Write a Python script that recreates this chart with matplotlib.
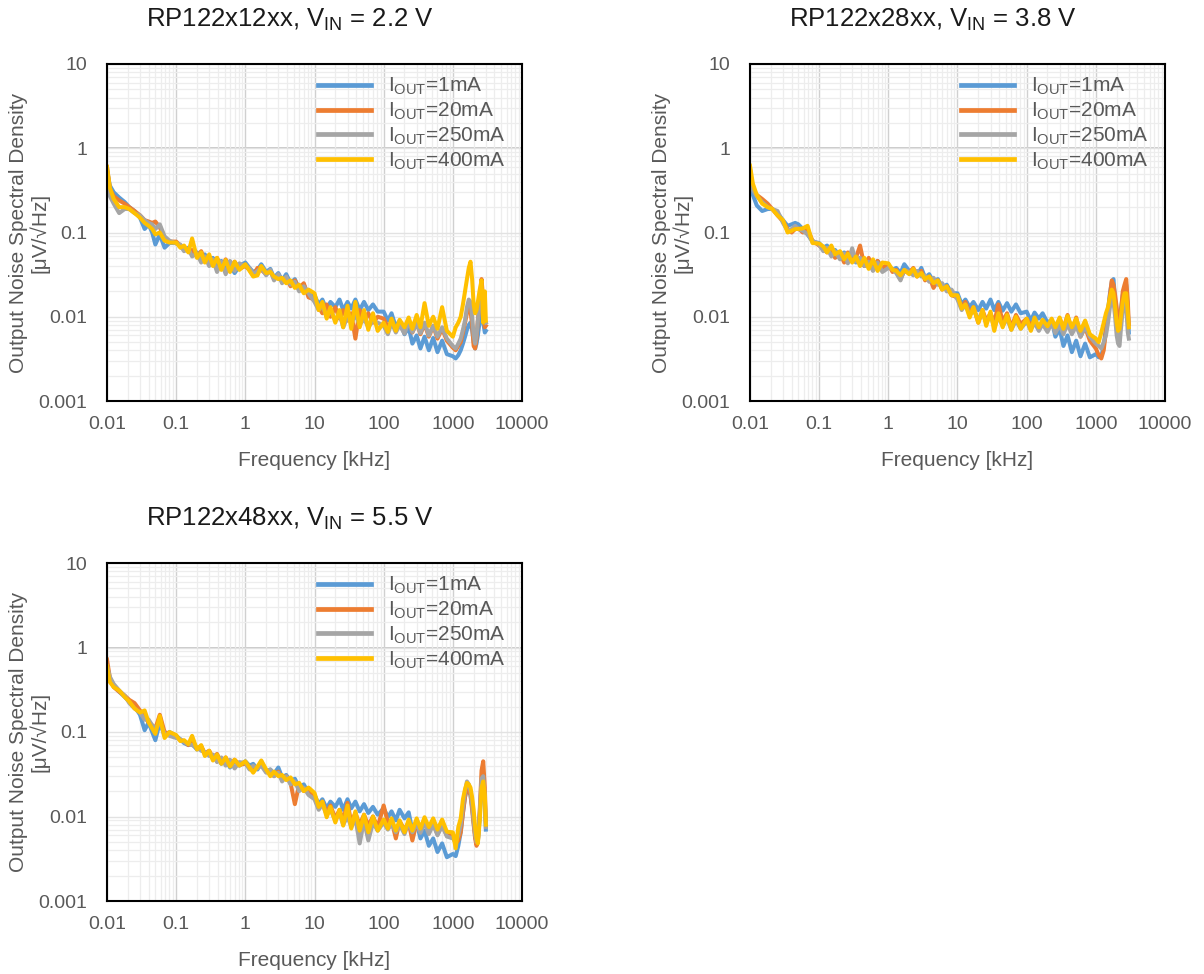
import matplotlib.pyplot as plt
from matplotlib.ticker import LogLocator, NullFormatter

plt.rcParams['font.family'] = ['Liberation Sans', 'DejaVu Sans']
plt.rcParams['mathtext.fontset'] = 'custom'
plt.rcParams['mathtext.rm'] = 'Liberation Sans'
plt.rcParams['mathtext.it'] = 'Liberation Sans:italic'

# frequency points [kHz], shared by every trace
freq_khz = [
    0.01, 0.011, 0.0125, 0.015, 0.018, 0.021, 0.025, 0.03, 0.035, 0.04, 0.045, 0.05, 0.058, 0.068, 0.08,
    0.1, 0.115, 0.13, 0.15, 0.17, 0.2, 0.23, 0.26, 0.3, 0.34, 0.39, 0.45, 0.52, 0.6, 0.7, 0.82,
    1, 1.15, 1.3, 1.5, 1.7, 2, 2.3, 2.6, 3, 3.4, 3.9, 4.5, 5.2, 6, 7, 8.2,
    10, 11.5, 13, 15, 17, 20, 23, 26, 30, 34, 39, 45, 52, 60, 70, 82,
    100, 115, 130, 150, 170, 200, 230, 260, 300, 340, 390, 450, 520, 600, 700, 820,
    1000, 1100, 1200, 1300, 1400, 1500, 1600, 1700, 1800, 1900, 2000, 2100, 2200, 2300, 2450, 2600, 2750, 2900, 3000,
]

# RP122x12xx, VIN = 2.2 V  [uV/sqrt(Hz)]
rp12_1ma = [
    0.55, 0.36, 0.30, 0.26, 0.23, 0.20, 0.18, 0.15, 0.11, 0.125, 0.10, 0.072, 0.095, 0.066, 0.075,
    0.075, 0.068, 0.062, 0.066, 0.055, 0.058, 0.048, 0.055, 0.044, 0.05, 0.040, 0.046, 0.036, 0.042, 0.033, 0.040,
    0.044, 0.038, 0.034, 0.036, 0.042, 0.034, 0.037, 0.029, 0.033, 0.027, 0.032, 0.025, 0.028, 0.021, 0.024, 0.018,
    0.018, 0.014, 0.016, 0.012, 0.015, 0.013, 0.016, 0.012, 0.015, 0.0125, 0.016, 0.012, 0.015, 0.012, 0.014, 0.0115,
    0.0115, 0.009, 0.011, 0.0075, 0.009, 0.0062, 0.0075, 0.0048, 0.006, 0.0042, 0.0058, 0.0040, 0.0056, 0.0038, 0.0052, 0.0036,
    0.0034, 0.0032, 0.0035, 0.004, 0.0048, 0.0058, 0.007, 0.008, 0.0085, 0.007, 0.005, 0.0042, 0.0048, 0.006, 0.009, 0.012, 0.0085, 0.0065, 0.0068,
]
rp12_20ma = [
    0.60, 0.33, 0.27, 0.24, 0.22, 0.20, 0.18, 0.16, 0.14, 0.135, 0.13, 0.135, 0.115, 0.085, 0.078,
    0.078, 0.07, 0.066, 0.06, 0.062, 0.052, 0.06, 0.046, 0.052, 0.042, 0.05, 0.038, 0.048, 0.036, 0.045, 0.037,
    0.040, 0.036, 0.031, 0.038, 0.036, 0.032, 0.035, 0.028, 0.031, 0.026, 0.029, 0.023, 0.027, 0.022, 0.025, 0.017,
    0.016, 0.013, 0.011, 0.014, 0.010, 0.013, 0.0095, 0.012, 0.009, 0.011, 0.0055, 0.012, 0.009, 0.011, 0.0085, 0.010,
    0.0095, 0.0075, 0.0088, 0.007, 0.0085, 0.0068, 0.0092, 0.0065, 0.0085, 0.0062, 0.0082, 0.0058, 0.0078, 0.0055, 0.0072, 0.0052,
    0.0043, 0.004, 0.0045, 0.005, 0.0065, 0.0085, 0.011, 0.013, 0.012, 0.008, 0.0045, 0.0042, 0.0055, 0.009, 0.016, 0.028, 0.016, 0.0075, 0.0078,
]
rp12_250ma = [
    0.50, 0.27, 0.22, 0.17, 0.19, 0.19, 0.17, 0.16, 0.14, 0.13, 0.125, 0.11, 0.125, 0.09, 0.08,
    0.074, 0.072, 0.06, 0.064, 0.052, 0.056, 0.044, 0.052, 0.040, 0.048, 0.034, 0.045, 0.032, 0.046, 0.035, 0.043,
    0.040, 0.038, 0.032, 0.035, 0.038, 0.031, 0.036, 0.027, 0.032, 0.025, 0.030, 0.024, 0.026, 0.020, 0.023, 0.019,
    0.015, 0.012, 0.0135, 0.010, 0.012, 0.009, 0.011, 0.0075, 0.010, 0.0085, 0.0105, 0.008, 0.0095, 0.0075, 0.009, 0.0085,
    0.0078, 0.0062, 0.0085, 0.0065, 0.008, 0.0063, 0.0088, 0.0066, 0.0082, 0.0064, 0.0085, 0.006, 0.0078, 0.0058, 0.0075, 0.0055,
    0.0045, 0.0042, 0.0048, 0.0055, 0.007, 0.009, 0.013, 0.016, 0.015, 0.01, 0.006, 0.0048, 0.006, 0.009, 0.015, 0.02, 0.012, 0.009, 0.0085,
]
rp12_400ma = [
    0.60, 0.34, 0.25, 0.20, 0.20, 0.19, 0.17, 0.15, 0.13, 0.12, 0.11, 0.095, 0.10, 0.08, 0.076,
    0.076, 0.066, 0.07, 0.058, 0.085, 0.05, 0.058, 0.044, 0.055, 0.04, 0.05, 0.036, 0.047, 0.034, 0.045, 0.036,
    0.042, 0.035, 0.030, 0.031, 0.040, 0.033, 0.034, 0.030, 0.028, 0.029, 0.025, 0.027, 0.022, 0.024, 0.019, 0.021,
    0.019, 0.012, 0.015, 0.0095, 0.013, 0.0085, 0.012, 0.0075, 0.0135, 0.0072, 0.015, 0.0075, 0.012, 0.007, 0.011, 0.0068,
    0.0085, 0.0066, 0.0095, 0.0068, 0.0092, 0.0075, 0.0098, 0.0072, 0.0105, 0.0075, 0.0145, 0.0078, 0.010, 0.0072, 0.013, 0.0068,
    0.0058, 0.0075, 0.0085, 0.010, 0.014, 0.02, 0.028, 0.038, 0.045, 0.028, 0.014, 0.011, 0.012, 0.015, 0.021, 0.027, 0.0085, 0.02, 0.009,
]

# RP122x28xx, VIN = 3.8 V
rp28_1ma = [
    0.58, 0.28, 0.21, 0.18, 0.19, 0.19, 0.17, 0.14, 0.12, 0.125, 0.13, 0.125, 0.11, 0.095, 0.078,
    0.075, 0.066, 0.07, 0.058, 0.062, 0.052, 0.058, 0.046, 0.055, 0.044, 0.05, 0.04, 0.048, 0.037, 0.046, 0.036,
    0.040, 0.036, 0.038, 0.033, 0.042, 0.035, 0.036, 0.031, 0.038, 0.029, 0.032, 0.026, 0.028, 0.022, 0.024, 0.019,
    0.019, 0.014, 0.016, 0.013, 0.015, 0.012, 0.015, 0.0125, 0.016, 0.012, 0.015, 0.0118, 0.0145, 0.0115, 0.014, 0.011,
    0.0115, 0.009, 0.0112, 0.0095, 0.011, 0.0085, 0.0092, 0.0058, 0.0072, 0.0045, 0.006, 0.0038, 0.0052, 0.0034, 0.0048, 0.0033,
    0.0036, 0.0033, 0.0034, 0.0045, 0.0075, 0.012, 0.019, 0.026, 0.028, 0.016, 0.0105, 0.0092, 0.0085, 0.012, 0.018, 0.022, 0.024, 0.012, 0.0065,
]
rp28_20ma = [
    0.55, 0.33, 0.28, 0.25, 0.22, 0.19, 0.16, 0.135, 0.11, 0.10, 0.11, 0.112, 0.10, 0.11, 0.08,
    0.07, 0.064, 0.058, 0.066, 0.05, 0.056, 0.044, 0.058, 0.046, 0.05, 0.07, 0.04, 0.05, 0.036, 0.046, 0.038,
    0.042, 0.034, 0.036, 0.028, 0.035, 0.033, 0.038, 0.03, 0.035, 0.027, 0.03, 0.022, 0.027, 0.021, 0.023, 0.018,
    0.017, 0.013, 0.015, 0.011, 0.013, 0.0085, 0.012, 0.009, 0.011, 0.0085, 0.014, 0.0088, 0.011, 0.0075, 0.0105, 0.0082,
    0.0095, 0.0078, 0.009, 0.0072, 0.0088, 0.007, 0.0085, 0.0068, 0.0095, 0.0072, 0.0105, 0.0065, 0.0098, 0.0058, 0.0075, 0.0052,
    0.0042, 0.0035, 0.0032, 0.004, 0.0068, 0.011, 0.018, 0.027, 0.024, 0.018, 0.013, 0.009, 0.008, 0.011, 0.02, 0.024, 0.028, 0.015, 0.0082,
]
rp28_250ma = [
    0.45, 0.32, 0.27, 0.23, 0.20, 0.19, 0.18, 0.13, 0.105, 0.11, 0.12, 0.11, 0.105, 0.095, 0.08,
    0.072, 0.06, 0.066, 0.052, 0.06, 0.048, 0.056, 0.043, 0.065, 0.045, 0.05, 0.04, 0.045, 0.035, 0.044, 0.034,
    0.038, 0.037, 0.033, 0.027, 0.036, 0.034, 0.031, 0.035, 0.03, 0.031, 0.026, 0.029, 0.024, 0.025, 0.02, 0.021,
    0.016, 0.012, 0.014, 0.0105, 0.012, 0.0095, 0.011, 0.0085, 0.0105, 0.0075, 0.01, 0.0078, 0.0095, 0.007, 0.009, 0.0072,
    0.0088, 0.007, 0.0085, 0.0068, 0.0082, 0.0066, 0.0085, 0.0064, 0.008, 0.0062, 0.0082, 0.0062, 0.0078, 0.0058, 0.0075, 0.0058,
    0.0048, 0.0045, 0.0042, 0.005, 0.006, 0.0085, 0.013, 0.017, 0.015, 0.01, 0.006, 0.0048, 0.0045, 0.007, 0.012, 0.015, 0.013, 0.0065, 0.0055,
]
rp28_400ma = [
    0.62, 0.38, 0.28, 0.22, 0.20, 0.19, 0.16, 0.14, 0.10, 0.105, 0.11, 0.11, 0.112, 0.12, 0.075,
    0.074, 0.068, 0.058, 0.07, 0.055, 0.06, 0.048, 0.056, 0.044, 0.052, 0.04, 0.05, 0.037, 0.048, 0.035, 0.044,
    0.043, 0.036, 0.035, 0.031, 0.036, 0.032, 0.037, 0.03, 0.033, 0.028, 0.03, 0.025, 0.027, 0.021, 0.023, 0.018,
    0.018, 0.0125, 0.014, 0.0098, 0.013, 0.0085, 0.012, 0.0078, 0.0115, 0.0068, 0.011, 0.0075, 0.0105, 0.007, 0.01, 0.0072,
    0.0095, 0.0068, 0.0098, 0.0075, 0.0092, 0.0077, 0.0095, 0.0075, 0.0098, 0.0072, 0.0102, 0.0075, 0.0095, 0.0068, 0.009, 0.0062,
    0.0055, 0.005, 0.0065, 0.0085, 0.011, 0.013, 0.017, 0.021, 0.019, 0.013, 0.0085, 0.0068, 0.0072, 0.01, 0.015, 0.019, 0.019, 0.011, 0.0075,
]

# RP122x48xx, VIN = 5.5 V
rp48_1ma = [
    0.62, 0.42, 0.35, 0.30, 0.26, 0.23, 0.2, 0.16, 0.105, 0.13, 0.1, 0.08, 0.13, 0.09, 0.1,
    0.09, 0.082, 0.074, 0.07, 0.072, 0.062, 0.066, 0.055, 0.058, 0.048, 0.052, 0.042, 0.048, 0.038, 0.046, 0.04,
    0.045, 0.04, 0.042, 0.036, 0.045, 0.034, 0.036, 0.032, 0.038, 0.029, 0.031, 0.026, 0.028, 0.022, 0.024, 0.019,
    0.018, 0.014, 0.016, 0.0125, 0.015, 0.013, 0.016, 0.012, 0.016, 0.0125, 0.015, 0.0115, 0.014, 0.011, 0.013, 0.0105,
    0.0125, 0.0098, 0.0115, 0.009, 0.012, 0.0095, 0.0112, 0.0068, 0.0085, 0.0055, 0.0068, 0.0045, 0.0055, 0.0038, 0.0048, 0.0033,
    0.0036, 0.0034, 0.0045, 0.0065, 0.011, 0.017, 0.022, 0.02, 0.018, 0.013, 0.0085, 0.006, 0.0048, 0.005, 0.01, 0.025, 0.028, 0.015, 0.007,
]
rp48_20ma = [
    0.72, 0.44, 0.34, 0.30, 0.27, 0.24, 0.22, 0.18, 0.15, 0.13, 0.12, 0.11, 0.16, 0.1, 0.095,
    0.088, 0.08, 0.078, 0.07, 0.075, 0.064, 0.068, 0.056, 0.06, 0.05, 0.055, 0.043, 0.05, 0.04, 0.047, 0.041,
    0.042, 0.038, 0.036, 0.038, 0.042, 0.035, 0.033, 0.03, 0.034, 0.028, 0.03, 0.025, 0.014, 0.024, 0.02, 0.021,
    0.017, 0.0125, 0.015, 0.011, 0.0135, 0.0095, 0.012, 0.009, 0.0145, 0.0085, 0.011, 0.008, 0.0105, 0.0078, 0.01, 0.0075,
    0.0135, 0.0085, 0.009, 0.0055, 0.0088, 0.007, 0.0085, 0.0052, 0.0085, 0.0068, 0.0088, 0.0065, 0.0082, 0.0062, 0.0078, 0.006,
    0.0058, 0.0048, 0.0052, 0.0065, 0.011, 0.017, 0.022, 0.021, 0.018, 0.012, 0.008, 0.0055, 0.0045, 0.005, 0.012, 0.035, 0.045, 0.022, 0.009,
]
rp48_250ma = [
    0.6, 0.45, 0.37, 0.31, 0.27, 0.22, 0.19, 0.17, 0.14, 0.14, 0.12, 0.11, 0.13, 0.095, 0.09,
    0.085, 0.082, 0.076, 0.072, 0.07, 0.066, 0.06, 0.058, 0.052, 0.054, 0.044, 0.05, 0.04, 0.047, 0.037, 0.044,
    0.043, 0.036, 0.04, 0.037, 0.04, 0.033, 0.036, 0.03, 0.033, 0.026, 0.03, 0.024, 0.026, 0.02, 0.022, 0.018,
    0.016, 0.012, 0.014, 0.0105, 0.012, 0.009, 0.011, 0.008, 0.01, 0.0075, 0.0095, 0.0048, 0.009, 0.0052, 0.0085, 0.0068,
    0.0085, 0.007, 0.0082, 0.0065, 0.008, 0.0062, 0.0085, 0.0065, 0.0082, 0.0064, 0.0085, 0.0062, 0.008, 0.006, 0.0078, 0.0058,
    0.0055, 0.005, 0.006, 0.008, 0.013, 0.02, 0.026, 0.024, 0.02, 0.014, 0.009, 0.006, 0.005, 0.0052, 0.011, 0.028, 0.03, 0.016, 0.0075,
]
rp48_400ma = [
    0.6, 0.39, 0.34, 0.31, 0.26, 0.23, 0.19, 0.17, 0.18, 0.13, 0.11, 0.095, 0.155, 0.085, 0.10,
    0.092, 0.078, 0.08, 0.072, 0.09, 0.062, 0.07, 0.052, 0.06, 0.046, 0.054, 0.042, 0.05, 0.039, 0.047, 0.04,
    0.045, 0.038, 0.033, 0.039, 0.046, 0.036, 0.03, 0.034, 0.03, 0.031, 0.027, 0.029, 0.024, 0.025, 0.02, 0.022,
    0.019, 0.013, 0.015, 0.0098, 0.013, 0.0085, 0.012, 0.0078, 0.0135, 0.0072, 0.0115, 0.0068, 0.0105, 0.0065, 0.01, 0.0068,
    0.0092, 0.0072, 0.0095, 0.0068, 0.009, 0.0065, 0.0092, 0.0068, 0.0095, 0.0072, 0.0098, 0.0075, 0.0095, 0.007, 0.0092, 0.0066,
    0.0065, 0.0042, 0.0075, 0.0095, 0.016, 0.021, 0.025, 0.024, 0.022, 0.017, 0.012, 0.0075, 0.0055, 0.0048, 0.009, 0.022, 0.026, 0.018, 0.008,
]

titles = [r'RP122x12xx, V$_{\rm IN}$ = 2.2 V',
          r'RP122x28xx, V$_{\rm IN}$ = 3.8 V',
          r'RP122x48xx, V$_{\rm IN}$ = 5.5 V']
series_labels = [r'I$_{\rm OUT}$=1mA', r'I$_{\rm OUT}$=20mA',
                 r'I$_{\rm OUT}$=250mA', r'I$_{\rm OUT}$=400mA']
colors = ['#5B9BD5', '#ED7D31', '#A5A5A5', '#FFC000']
x_ticks = [0.01, 0.1, 1, 10, 100, 1000, 10000]
x_tick_labels = ['0.01', '0.1', '1', '10', '100', '1000', '10000']
y_ticks = [0.001, 0.01, 0.1, 1, 10]
y_tick_labels = ['0.001', '0.01', '0.1', '1', '10']

W, H = 1204, 974
fig = plt.figure(figsize=(W / 100, H / 100), dpi=100)

# axes boxes in pixels: left, top, right, bottom
boxes = [(107, 64, 522, 401), (750, 64, 1165, 401), (107, 563, 522, 901)]
panel_data = [
    [rp12_1ma, rp12_20ma, rp12_250ma, rp12_400ma],
    [rp28_1ma, rp28_20ma, rp28_250ma, rp28_400ma],
    [rp48_1ma, rp48_20ma, rp48_250ma, rp48_400ma],
]

grey_txt = '#595959'

for (l, t, r, b), title, traces in zip(boxes, titles, panel_data):
    ax = fig.add_axes([l / W, 1 - b / H, (r - l) / W, (b - t) / H])
    for vals, c, lab in zip(traces, colors, series_labels):
        ax.plot(freq_khz, vals, color=c, lw=2.9, label=lab, solid_joinstyle='round')

    ax.set_xscale('log')
    ax.set_yscale('log')
    ax.set_xlim(0.01, 10000)
    ax.set_ylim(0.001, 10)
    ax.set_xticks(x_ticks)
    ax.set_xticklabels(x_tick_labels)
    ax.set_yticks(y_ticks)
    ax.set_yticklabels(y_tick_labels)
    ax.xaxis.set_minor_locator(LogLocator(base=10, subs=range(2, 10), numticks=20))
    ax.yaxis.set_minor_locator(LogLocator(base=10, subs=range(2, 10), numticks=20))
    ax.xaxis.set_minor_formatter(NullFormatter())
    ax.yaxis.set_minor_formatter(NullFormatter())
    ax.tick_params(which='both', length=0)
    ax.tick_params(axis='x', labelsize=14, labelcolor=grey_txt, pad=11)
    ax.tick_params(axis='y', labelsize=14, labelcolor=grey_txt, pad=14)

    ax.grid(which='minor', color='#EDEDED', lw=0.9)
    ax.grid(which='major', axis='x', color='#D0D0D0', lw=1.0)
    ax.grid(which='major', axis='y', color='#E2E2E2', lw=1.0)
    ax.axhline(1, color='#BFBFBF', lw=1.2, zorder=0.5)
    ax.set_axisbelow(True)
    for s in ax.spines.values():
        s.set_color('black')
        s.set_linewidth(1.5)

    leg = ax.legend(loc='upper left', bbox_to_anchor=(0.483, 0.995), frameon=False,
                    fontsize=15, handlelength=2.55, handletextpad=0.8,
                    labelspacing=0.17, borderpad=0, labelcolor=grey_txt)
    for h in leg.get_lines():
        h.set_linewidth(3.4)

    cx = (l + r) / 2
    fig.text((cx - 25) / W, 1 - (t - 44) / H, title, fontsize=18.5,
             ha='center', va='center', color='#1a1a1a')
    fig.text(cx / W, 1 - (b + 59) / H, 'Frequency [kHz]', fontsize=15,
             ha='center', va='center', color=grey_txt)
    fig.text((l - 78) / W, 1 - ((t + b) / 2) / H,
             'Output Noise Spectral Density\n[μV/√Hz]', fontsize=15,
             rotation=90, ha='center', va='center', color=grey_txt,
             multialignment='center', linespacing=1.05)

fig.savefig('out.png', dpi=100)
